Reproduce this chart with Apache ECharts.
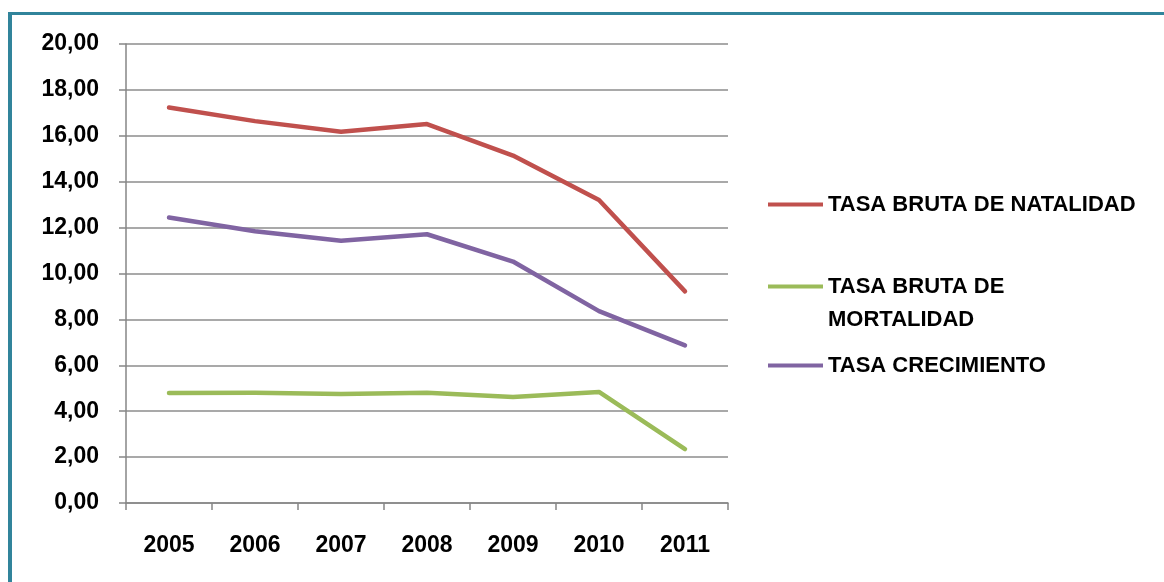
<!DOCTYPE html>
<html>
<head>
<meta charset="utf-8">
<script src="https://cdn.jsdelivr.net/npm/echarts@6/dist/echarts.min.js"></script>
<style>
  html, body { margin: 0; padding: 0; background: #fff; }
  #frame { position: absolute; left: 8px; top: 12px; width: 1156px; height: 570px;
           border-top: 3px solid #31849B; border-left: 4px solid #31849B; box-sizing: border-box; }
  #chart { position: absolute; left: 0; top: 0; width: 1164px; height: 582px; }
</style>
</head>
<body>
<div id="frame"></div>
<div id="chart"></div>
<script>
const years = ['2005', '2006', '2007', '2008', '2009', '2010', '2011'];
const natalidad = [17.23, 16.64, 16.18, 16.51, 15.14, 13.20, 9.22];
const mortalidad = [4.79, 4.80, 4.75, 4.80, 4.62, 4.84, 2.35];
const crecimiento = [12.44, 11.84, 11.43, 11.71, 10.52, 8.36, 6.87];
const seriesNames = ['TASA BRUTA DE NATALIDAD', 'TASA BRUTA DE MORTALIDAD', 'TASA CRECIMIENTO'];
const colors = ['#C0504D', '#9BBB59', '#8064A2'];

const FONT = 'Liberation Sans';
const chart = echarts.init(document.getElementById('chart'), null, { renderer: 'canvas' });

function legendFor(i, top) {
  return {
    data: [seriesNames[i]],
    left: 768,
    top: top,
    padding: 0,
    orient: 'vertical',
    icon: 'rect',
    itemWidth: 55,
    itemHeight: 4,
    itemGap: 0,
    selectedMode: false,
    itemStyle: { borderWidth: 0 },
    formatter: i === 1 ? function () { return ' \nTASA BRUTA DE\nMORTALIDAD'; } : undefined,
    textStyle: {
      fontFamily: FONT, fontWeight: 'bold', fontSize: 22, color: '#000',
      lineHeight: 33
    }
  };
}

chart.setOption({
  backgroundColor: 'transparent',
  animation: false,
  grid: { left: 126, right: 436, top: 44, bottom: 79, containLabel: false },
  legend: [legendFor(0, 188), legendFor(1, 237), legendFor(2, 349)],
  xAxis: {
    type: 'category',
    data: years,
    boundaryGap: true,
    axisLine: { lineStyle: { color: '#868686', width: 1.5 } },
    axisTick: { show: true, length: 7, lineStyle: { color: '#868686', width: 1.5 } },
    axisLabel: { fontFamily: FONT, fontWeight: 'bold', fontSize: 23, color: '#000', margin: 31 }
  },
  yAxis: {
    type: 'value',
    min: 0, max: 20, interval: 2,
    axisLine: { show: true, lineStyle: { color: '#868686', width: 1.5 } },
    axisTick: { show: true, length: 7, lineStyle: { color: '#868686', width: 1.5 } },
    splitLine: { lineStyle: { color: '#8c8c8c', width: 1.5 } },
    axisLabel: {
      fontFamily: FONT, fontWeight: 'bold', fontSize: 23, color: '#000', margin: 27,
      formatter: v => v.toFixed(2).replace('.', ',')
    }
  },
  series: [
    { name: seriesNames[0], type: 'line', data: natalidad },
    { name: seriesNames[1], type: 'line', data: mortalidad },
    { name: seriesNames[2], type: 'line', data: crecimiento }
  ].map((s, i) => Object.assign(s, {
    color: colors[i],
    symbol: 'none',
    lineStyle: { width: 4.5, color: colors[i], cap: 'round', join: 'round' }
  }))
});
</script>
</body>
</html>
